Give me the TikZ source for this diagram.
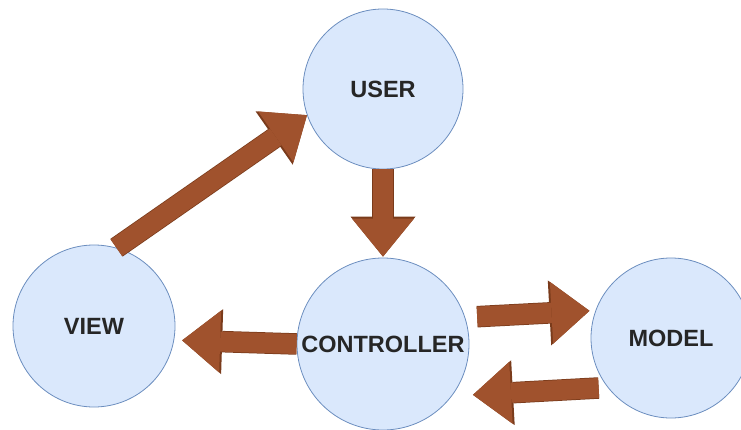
\documentclass[tikz,border=0pt]{standalone}
\usepackage{fontspec}
\setmainfont{Liberation Sans}
\usetikzlibrary{arrows.meta}
\definecolor{circleFill}{HTML}{DAE8FC}
\definecolor{circleEdge}{HTML}{6C8EBF}
\definecolor{arrowFill}{HTML}{A0522D}
\definecolor{arrowEdge}{HTML}{7A3B1B}

\begin{document}
\begin{tikzpicture}
[x=1pt, y=-1pt,
 nodeDecorate/.style={shape=circle, inner sep=0pt, draw=circleEdge, fill=circleFill, line width=0.8pt, text=black!85, font=\fontsize{23.5}{28}\selectfont\bfseries},
 lineDecorate/.style={draw=arrowFill, line width=20pt, -{Triangle[length=38pt,width=62pt,line width=0pt]},
   preaction={draw=arrowEdge, line width=21.5pt, -{Triangle[length=40pt,width=65pt,line width=0pt]}}}]

\useasboundingbox (0,0) rectangle (741,430);

 \foreach \nodename/\x/\y/\r in {
USER/383/89/80,
VIEW/94/326/81,
CONTROLLER/383/344/86,
MODEL/671/338/80
 }
 {
          \node (\nodename) at (\x,\y) [nodeDecorate, minimum size=2*\r pt] {\nodename};
 }

\path
\foreach \startnode/\endnode/\sa/\sb in {
VIEW.74/USER.199/0/0,
USER.south/CONTROLLER.north/0/1,
CONTROLLER.west/VIEW.-10/0/8,
CONTROLLER.18/MODEL.160/12/6,
MODEL.218/CONTROLLER.-37/9/21}
        {
          (\startnode) edge[lineDecorate, shorten <=\sa pt, shorten >=\sb pt] (\endnode)
        };
\end{tikzpicture}
\end{document}
